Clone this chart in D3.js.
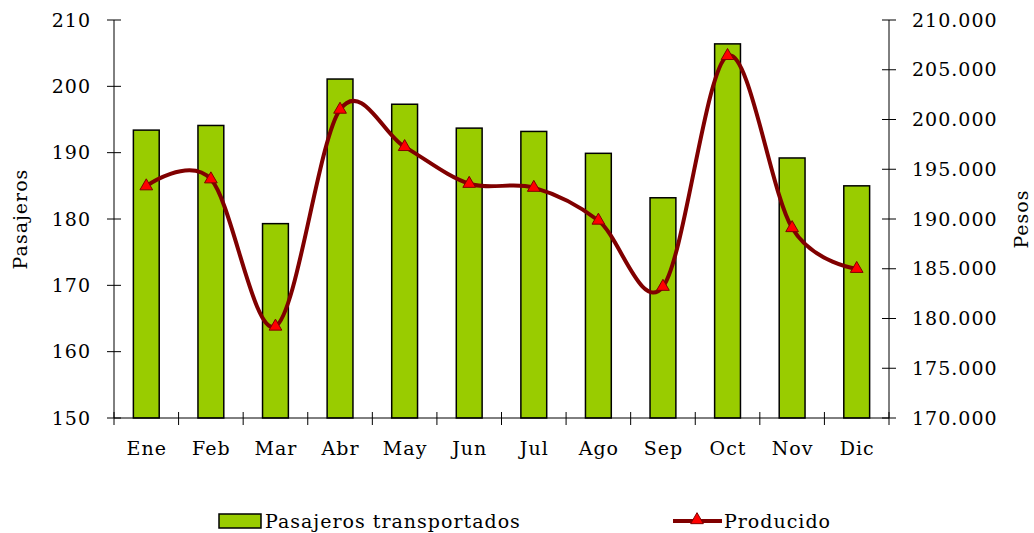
<!DOCTYPE html>
<html><head><meta charset="utf-8">
<script src="https://cdn.jsdelivr.net/npm/d3@7/dist/d3.min.js"></script>
<style>body{margin:0;background:#fff}svg{display:block}text{font-family:"DejaVu Serif",serif;fill:#000;letter-spacing:1px}</style>
</head><body>
<script>
const months = ["Ene","Feb","Mar","Abr","May","Jun","Jul","Ago","Sep","Oct","Nov","Dic"];
const pasajeros = [193.4,194.1,179.3,201.1,197.3,193.7,193.2,189.9,183.2,206.4,189.2,185.0];
const producido = [193300,194000,179200,201000,197250,193550,193150,189850,183200,206400,189100,185000];
const leftTicks = [150,160,170,180,190,200,210];
const rightTicks = [170000,175000,180000,185000,190000,195000,200000,205000,210000];

const W=1034,H=533;
const svg=d3.select("body").append("svg").attr("width",W).attr("height",H);
const x0=114,x1=889,yTop=20,yBot=418;
const x=d3.scaleBand().domain(months).range([x0,x1]);
const yL=d3.scaleLinear().domain([150,210]).range([yBot,yTop]);
const yR=d3.scaleLinear().domain([170000,210000]).range([yBot,yTop]);
const fmt=d=>d3.format(",.0f")(d).replace(/,/g,".");
const fs=19;

// bars
const bw=x.bandwidth()*0.4;
svg.append("g").selectAll("rect").data(months).join("rect")
  .attr("x",d=>x(d)+x.bandwidth()/2-bw/2)
  .attr("y",(d,i)=>yL(pasajeros[i]))
  .attr("width",bw)
  .attr("height",(d,i)=>yBot-yL(pasajeros[i]))
  .attr("fill","#99cc00").attr("stroke","#000").attr("stroke-width",1.5);

// axes
const ax=svg.append("g").attr("stroke","#000").attr("stroke-width",1);
ax.append("line").attr("x1",x0).attr("x2",x0).attr("y1",yTop).attr("y2",yBot);
ax.append("line").attr("x1",x1).attr("x2",x1).attr("y1",yTop).attr("y2",yBot);
ax.append("line").attr("x1",x0).attr("x2",x1).attr("y1",yBot).attr("y2",yBot);
leftTicks.forEach(t=>{
  ax.append("line").attr("x1",x0-7).attr("x2",x0+7).attr("y1",yL(t)).attr("y2",yL(t));
});
rightTicks.forEach(t=>{
  ax.append("line").attr("x1",x1-7).attr("x2",x1+7).attr("y1",yR(t)).attr("y2",yR(t));
});
const bounds=months.map(m=>x(m)).concat([x1]);
bounds.forEach(b=>{
  ax.append("line").attr("x1",b).attr("x2",b).attr("y1",yBot-6).attr("y2",yBot+7);
});

svg.append("g").selectAll("text").data(leftTicks).join("text")
  .attr("x",91).attr("y",d=>yL(d)).attr("dy","0.35em").attr("text-anchor","end")
  .attr("font-size",fs).text(d=>d);
svg.append("g").selectAll("text").data(rightTicks).join("text")
  .attr("x",912).attr("y",d=>yR(d)).attr("dy","0.35em").attr("text-anchor","start")
  .attr("font-size",fs).text(fmt);
svg.append("g").selectAll("text").data(months).join("text")
  .attr("x",d=>x(d)+x.bandwidth()/2+0.5).attr("y",455).attr("text-anchor","middle")
  .attr("font-size",fs).text(d=>d);

svg.append("text").attr("transform","translate(27,219) rotate(-90)").attr("text-anchor","middle")
  .attr("font-size",fs).text("Pasajeros");
svg.append("text").attr("transform","translate(1028,219) rotate(-90)").attr("text-anchor","middle")
  .attr("font-size",fs).text("Pesos");

// line
const pts=months.map((m,i)=>[x(m)+x.bandwidth()/2,yR(producido[i])]);
svg.append("path").attr("d",d3.line().curve(d3.curveCardinal.tension(0))(pts))
  .attr("fill","none").attr("stroke","#800000").attr("stroke-width",4);
const tri=d3.symbol().type(d3.symbolTriangle).size(70);
svg.append("g").selectAll("path").data(pts).join("path")
  .attr("transform",d=>`translate(${d[0]},${d[1]})`).attr("d",tri())
  .attr("fill","#ff0000").attr("stroke","#800000").attr("stroke-width",1);

// legend
const lg=svg.append("g");
lg.append("rect").attr("x",219).attr("y",514).attr("width",42).attr("height",14)
  .attr("fill","#99cc00").attr("stroke","#000").attr("stroke-width",1.5);
lg.append("text").attr("x",265).attr("y",521).attr("dy","0.35em").attr("font-size",fs).text("Pasajeros transportados");
lg.append("line").attr("x1",673).attr("x2",722).attr("y1",521).attr("y2",521).attr("stroke","#800000").attr("stroke-width",4);
lg.append("path").attr("transform","translate(697,520)").attr("d",tri()).attr("fill","#ff0000").attr("stroke","#800000");
lg.append("text").attr("x",724).attr("y",521).attr("dy","0.35em").attr("font-size",fs).text("Producido");
</script>
</body></html>
